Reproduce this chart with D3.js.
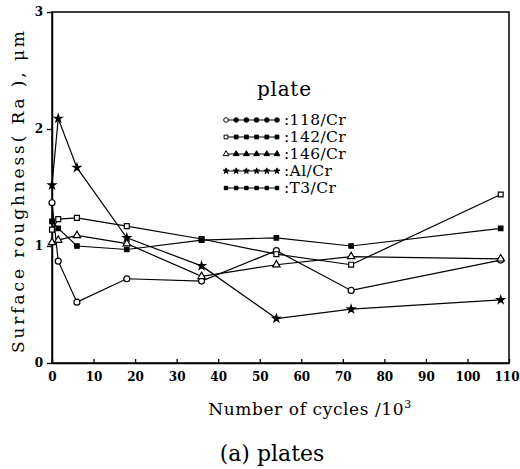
<!DOCTYPE html>
<html><head><meta charset="utf-8">
<script src="https://cdn.jsdelivr.net/npm/d3@7"></script>
<style>body{margin:0;background:#fff}</style></head>
<body>
<svg id="c" width="520" height="469"></svg>
<script>
const cycles = [0, 1.5, 6, 18, 36, 54, 72, 108];
const s118 = [1.37, 0.87, 0.52, 0.72, 0.70, 0.96, 0.62, 0.88];
const s142 = [1.14, 1.23, 1.24, 1.17, 1.06, 0.93, 0.84, 1.44];
const s146 = [1.03, 1.05, 1.09, 1.02, 0.74, 0.84, 0.91, 0.89];
const sAl  = [1.52, 2.09, 1.67, 1.07, 0.83, 0.38, 0.46, 0.54];
const sT3  = [1.21, 1.15, 1.00, 0.97, 1.05, 1.07, 1.00, 1.15];
const seriesNames = [":118/Cr", ":142/Cr", ":146/Cr", ":Al/Cr", ":T3/Cr"];
const xTicks = [0, 10, 20, 30, 40, 50, 60, 70, 80, 90, 100, 110];
const yTicks = [0, 1, 2, 3];

const seriesVals = [s118, s142, s146, sAl, sT3];
const symbols = [d3.symbolCircle, d3.symbolSquare, d3.symbolTriangle, d3.symbolStar, d3.symbolSquare];
const sizes = [28, 24, 24, 18, 20];
const open = [true, true, true, false, false];

const svg = d3.select("#c");
const serif = "'DejaVu Serif', 'Liberation Serif', serif";
const x = d3.scaleLinear().domain([0, 110]).range([52, 509]);
const y = d3.scaleLinear().domain([0, 3]).range([363, 12]);

// frame
svg.append("rect").attr("x", x(0)).attr("y", y(3))
  .attr("width", x(110) - x(0)).attr("height", y(0) - y(3))
  .attr("fill", "none").attr("stroke", "#000").attr("stroke-width", 1.5);

const ax = svg.append("g").attr("transform", `translate(0,${y(0)})`)
  .call(d3.axisBottom(x).tickValues(xTicks).tickFormat(d3.format("d")).tickSize(-4).tickSizeOuter(0).tickPadding(9));
const ay = svg.append("g").attr("transform", `translate(${x(0)},0)`)
  .call(d3.axisLeft(y).tickValues(yTicks).tickFormat(d3.format("d")).tickSize(5).tickSizeOuter(0).tickPadding(4));
[ax, ay].forEach(g => {
  g.select(".domain").attr("stroke", "#000").attr("stroke-width", 1.5);
  g.selectAll(".tick line").attr("stroke", "#000").attr("stroke-width", 1.3);
  g.selectAll(".tick text").attr("fill", "#000")
    .style("font-family", serif).style("font-size", "12px").style("font-weight", "bold");
});
ax.selectAll(".tick text").filter(d => d === 110).attr("text-anchor", "end").attr("dx", 10);

const line = d3.line().x((d, i) => x(cycles[i])).y(d => y(d));
seriesVals.forEach((vals, k) => {
  svg.append("path").datum(vals).attr("d", line)
    .attr("fill", "none").attr("stroke", "#000").attr("stroke-width", 1.2);
});
seriesVals.forEach((vals, k) => {
  svg.append("g").selectAll("path").data(vals).join("path")
    .attr("transform", (d, i) => `translate(${x(cycles[i])},${y(d)})`)
    .attr("d", d3.symbol().type(symbols[k]).size(sizes[k]))
    .attr("fill", open[k] ? "#fff" : "#000")
    .attr("stroke", "#000").attr("stroke-width", 1.2);
});

// legend
const lg = svg.append("g");
lg.append("text").attr("x", 257).attr("y", 96).attr("textLength", 54).text("plate")
  .style("font-family", serif).style("font-size", "20px");
const legX = d3.range(6).map(i => 226 + i * 10.2);
seriesNames.forEach((name, k) => {
  const yy = 120 + k * 17;
  lg.append("line").attr("x1", legX[0]).attr("x2", legX[5]).attr("y1", yy).attr("y2", yy)
    .attr("stroke", "#000").attr("stroke-width", 1.2);
  lg.append("g").selectAll("path").data(legX).join("path")
    .attr("transform", d => `translate(${d},${yy})`)
    .attr("d", d3.symbol().type(symbols[k]).size(sizes[k] * 0.6))
    .attr("fill", (d, i) => (open[k] && i === 0) ? "#fff" : "#000")
    .attr("stroke", "#000").attr("stroke-width", 1);
  lg.append("text").attr("x", 284).attr("y", yy + 5).text(name)
    .style("font-family", serif).style("font-size", "15.5px").style("letter-spacing", "0.4px");
});

// axis titles
svg.append("text").attr("transform", "translate(24,192) rotate(-90)")
  .attr("text-anchor", "middle").attr("textLength", 322).attr("lengthAdjust", "spacing")
  .text("Surface roughness( Ra ), \u03bcm")
  .style("font-family", serif).style("font-size", "17px");
const xt = svg.append("text").attr("x", 310).attr("y", 415).attr("text-anchor", "middle")
  .style("font-family", serif).style("font-size", "17px").style("letter-spacing", "0.6px");
xt.append("tspan").text("Number of cycles /10");
xt.append("tspan").attr("dy", -7).style("font-size", "11px").text("3");
svg.append("text").attr("x", 272).attr("y", 461).attr("text-anchor", "middle")
  .text("(a)  plates").style("font-family", serif).style("font-size", "22px");
</script>
</body></html>
